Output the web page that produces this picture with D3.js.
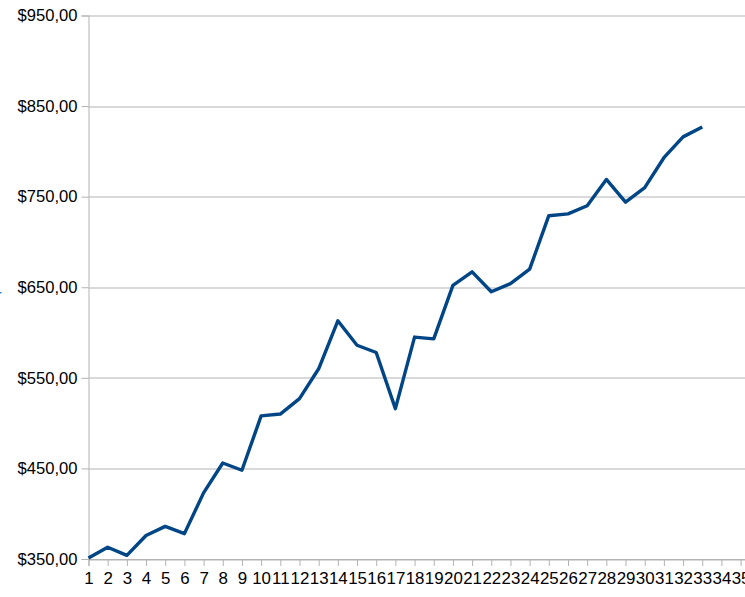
<!DOCTYPE html>
<html>
<head>
<meta charset="utf-8">
<script src="https://cdn.jsdelivr.net/npm/d3@7"></script>
<style>
	body { margin: 0; background: #fff; }
	svg { display: block; font-family: 'Liberation Sans', Arial, sans-serif; }
</style>
</head>
<body>
<div id="chart"></div>
<script>
// Chart data
const categories = [1, 2, 3, 4, 5, 6, 7, 8, 9, 10, 11, 12, 13, 14, 15, 16, 17, 18,
	19, 20, 21, 22, 23, 24, 25, 26, 27, 28, 29, 30, 31, 32, 33, 34, 35, 36]
const values = [351, 363, 354, 376, 386, 378, 423, 456, 448, 508, 510, 527, 560,
	613, 586, 578, 516, 595, 593, 652, 667, 645, 654, 670, 729, 731, 740, 769,
	744, 760, 793, 816, 827]
const yTicks = [350, 450, 550, 650, 750, 850, 950]

const svgWidth = 745
const svgHeight = 597
const margin = { top: 15.5, right: 0, bottom: 38, left: 88.5 }
const height = svgHeight - margin.top - margin.bottom

const locale = d3.formatLocale({
	decimal: ',',
	thousands: '.',
	grouping: [3],
	currency: ['$', ''],
})
const fmt = locale.format('$.2f')

const svg = d3
	.select('#chart')
	.append('svg')
	.attr('width', svgWidth)
	.attr('height', svgHeight)

const g = svg.append('g').attr('transform', `translate(${margin.left},${margin.top})`)

// categories sit on the ticks, 1 on the y axis
const x = d3
	.scalePoint()
	.domain(categories)
	.range([0, 19.18 * (categories.length - 1)])

const y = d3.scaleLinear().domain([350, 950]).range([height, 0])

// gridlines
g.append('g')
	.selectAll('line')
	.data(yTicks)
	.enter()
	.append('line')
	.attr('x1', 0)
	.attr('x2', svgWidth - margin.left)
	.attr('y1', (d) => Math.round(y(d)) + 0.5)
	.attr('y2', (d) => Math.round(y(d)) + 0.5)
	.attr('stroke', '#b3b3b3')
	.attr('stroke-width', 1)

// y axis
const yAxis = g
	.append('g')
	.call(d3.axisLeft(y).tickValues(yTicks).tickSize(7).tickPadding(4).tickFormat(fmt))
yAxis.select('.domain').attr('stroke', '#b3b3b3')
yAxis.selectAll('.tick line').attr('stroke', '#b3b3b3')
yAxis.selectAll('.tick text').attr('fill', '#000').style('font-size', '16.6px')

// x axis
const xAxis = g
	.append('g')
	.attr('transform', `translate(0,${height})`)
	.call(d3.axisBottom(x).tickSize(7).tickPadding(6))
xAxis.select('.domain').attr('stroke', '#b3b3b3')
xAxis.selectAll('.tick line').attr('stroke', '#b3b3b3')
xAxis.selectAll('.tick text').attr('fill', '#000').style('font-size', '16.9px')

// the line
const line = d3
	.line()
	.x((d, i) => x(categories[i]))
	.y((d) => y(d))

g.append('path')
	.datum(values)
	.attr('fill', 'none')
	.attr('stroke', '#004586')
	.attr('stroke-width', 3.4)
	.attr('stroke-linejoin', 'round')
	.attr('d', line)

// clipped axis title remnant at the far left
svg
	.append('text')
	.attr('x', -4)
	.attr('y', 301)
	.attr('fill', '#0a6ed1')
	.style('font-size', '17px')
	.text('r')
</script>
</body>
</html>
